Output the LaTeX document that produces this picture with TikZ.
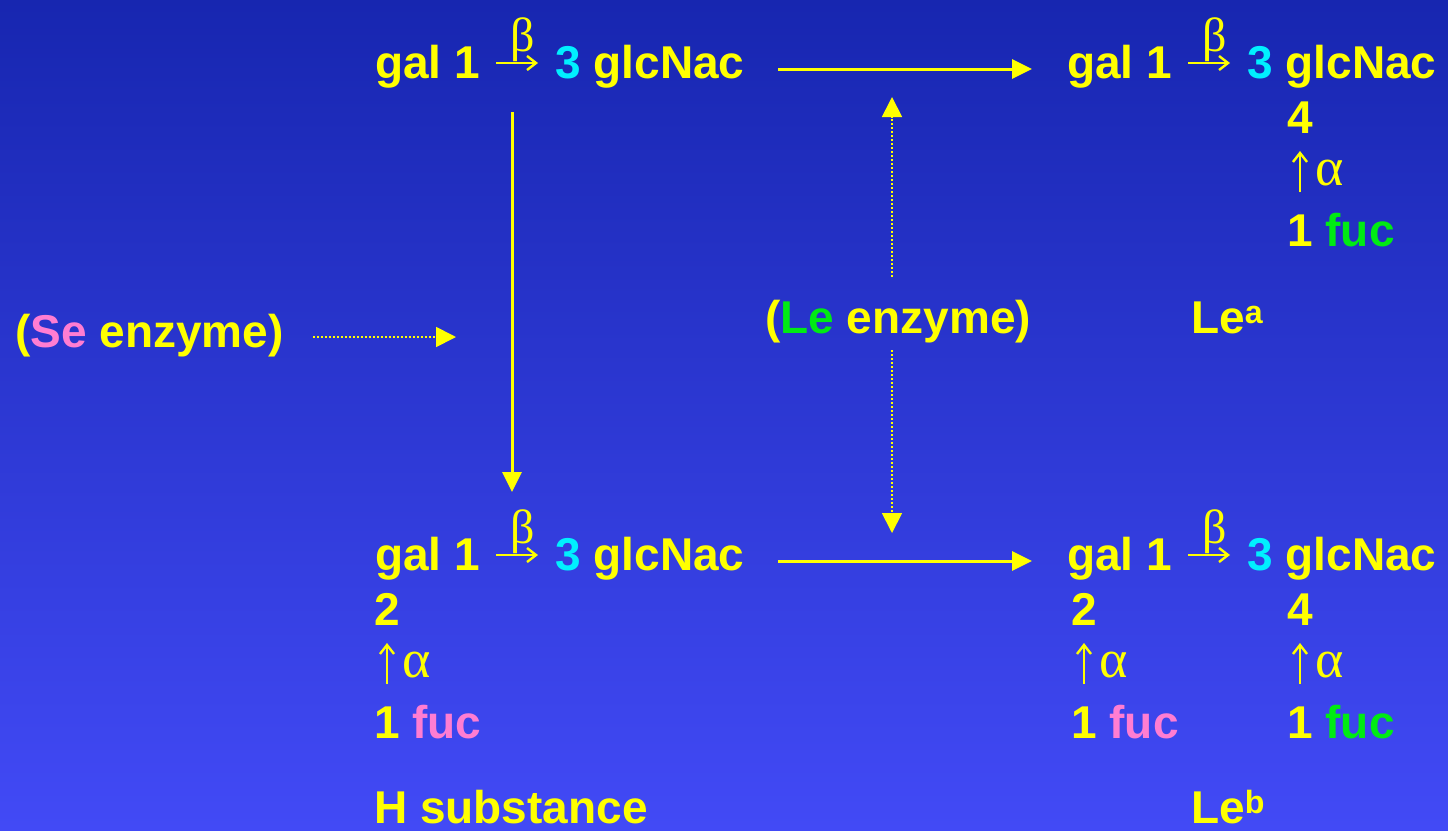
\documentclass[tikz,border=0pt]{standalone}
\usepackage{fontspec}
\setmainfont{Liberation Sans}
\newfontfamily\hvb{Liberation Sans Bold}
\newfontfamily\grkfont{Liberation Serif}
\usetikzlibrary{arrows.meta}
\definecolor{bgtop}{RGB}{23,38,176}
\definecolor{bgbot}{RGB}{66,74,246}
\definecolor{ylw}{RGB}{255,255,0}
\definecolor{cyn}{RGB}{0,240,255}
\definecolor{pnk}{RGB}{255,125,210}
\definecolor{grn}{RGB}{0,235,20}
\tikzset{
  txt/.style={anchor=base west, inner sep=0pt, text=ylw, font=\hvb\fontsize{46}{50}\selectfont},
  grk/.style={anchor=base west, inner sep=0pt, text=ylw, font=\grkfont\fontsize{48}{52}\selectfont},
  grka/.style={anchor=base west, inner sep=0pt, text=ylw, font=\grkfont\fontsize{54}{58}\selectfont},
  smallarr/.style={draw=ylw, line width=2.4pt, -{Straight Barb[length=9pt,width=14pt,line width=2.4pt]}},
  solidarr/.style={draw=ylw, line width=3pt, -{Triangle[length=20pt,width=19pt]}},
  dotarr/.style={draw=ylw, line width=1.8pt, dash pattern=on 1.8pt off 2.2pt, -{Triangle[length=20pt,width=20pt]}},
}
% row: prefix, x, baseline
\newcommand\glrow[3]{%
  \node[txt] (#1gal) at (#2,#3) {gal 1};
  \node[txt] (#1glc) at (#2+180,#3) {\textcolor{cyn}{3} glcNac};
  \draw[smallarr] ([shift={(121,-15)}]#1gal.base west) -- ([shift={(-17,-15)}]#1glc.base west);
  \node[grk] (#1beta) at (#2+135,#3-27) {β};
}
% branch: prefix, x, number baseline, number, fuc colour
\newcommand\fucbranch[5]{%
  \node[txt] (#1num) at (#2,#3) {#4};
  \node[txt] (#1fuc) at (#2,#3+113) {1 \textcolor{#5}{fuc}};
  \draw[smallarr] ([shift={(13,-54)}]#1fuc.base west) -- ([shift={(13,18)}]#1num.base west);
  \node[grka] (#1alpha) at (#2+28,#3+52) {α};
}
\begin{document}
\begin{tikzpicture}[x=1pt,y=-1pt]
\shade[top color=bgtop, bottom color=bgbot] (0,0) rectangle (1448,830);
\useasboundingbox (0,0) rectangle (1448,830);

\glrow{tl}{375}{78}
\glrow{tr}{1067}{78}
\glrow{bl}{375}{570}
\glrow{br}{1067}{570}

\fucbranch{tra}{1287}{133}{4}{grn}
\fucbranch{bla}{374}{625}{2}{pnk}
\fucbranch{bra}{1071}{625}{2}{pnk}
\fucbranch{brb}{1287}{625}{4}{grn}

\node[txt] (se) at (15,347) {(\textcolor{pnk}{Se} enzyme)};
\node[txt] (le) at (765,333) {(\textcolor{grn}{Le} enzyme)};
\node[txt] (lea) at (1191,333) {Le\textsuperscript{a}};
\node[txt] (leb) at (1191,823) {Le\textsuperscript{b}};
\node[txt] (hsub) at (374,823) {H substance};

\coordinate (h1s) at (778,69);
\coordinate (h1e) at (1032,69);
\coordinate (h2s) at (778,561);
\coordinate (h2e) at (1032,561);
\coordinate (vs) at (512,112);
\coordinate (ve) at (512,492);
\coordinate (ses) at (313,337);
\coordinate (see) at (456,337);
\coordinate (leu) at (892,277);
\coordinate (leue) at (892,97);
\coordinate (led) at (892,350);
\coordinate (lede) at (892,533);

\draw[solidarr] (h1s) -- (h1e);
\draw[solidarr] (h2s) -- (h2e);
\draw[solidarr] (vs) -- (ve);
\draw[dotarr] (ses) -- (see);
\draw[dotarr] (leu) -- (leue);
\draw[dotarr] (led) -- (lede);
\end{tikzpicture}
\end{document}
